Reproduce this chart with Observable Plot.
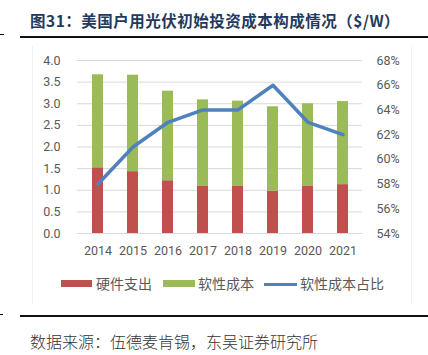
<!DOCTYPE html>
<html><head><meta charset="utf-8">
<script src="https://cdn.jsdelivr.net/npm/d3@7"></script>
<script src="https://cdn.jsdelivr.net/npm/@observablehq/plot@0.6"></script>
<style>
html,body{margin:0;padding:0;background:#fff;}
#wrap{position:relative;width:428px;height:355px;overflow:hidden;font-family:"Noto Sans CJK SC","Noto Sans",sans-serif;}
#title{position:absolute;left:30px;top:9px;font-size:15.5px;font-weight:700;color:#233a5e;white-space:nowrap;letter-spacing:0.5px;}
.rule{position:absolute;background:#111;}
#chart{position:absolute;left:0;top:45px;}
#frame{position:absolute;left:32px;top:46px;width:378px;height:258px;border-left:1px solid #f1f1f1;border-right:1px solid #f1f1f1;}
#legend{position:absolute;top:274px;left:0;width:428px;height:20px;font-size:14px;color:#595959;}
#legend .sw{position:absolute;}
#legend .tx{position:absolute;top:0;line-height:18px;white-space:nowrap;}
#source{position:absolute;left:30px;top:331px;font-size:16px;line-height:20px;color:#333;font-weight:300;white-space:nowrap;}
</style></head><body>
<div id="wrap">
  <div id="title">图31：美国户用光伏初始投资成本构成情况（$/W）</div>
  <div class="rule" style="left:0;top:34px;width:4px;height:1px;"></div>
  <div class="rule" style="left:20px;top:36px;width:408px;height:1.5px;"></div>
  <div id="frame"></div>
  <div id="chart"></div>
  <div id="legend"></div>
  <div class="rule" style="left:0;top:314px;width:3px;height:1px;"></div>
  <div class="rule" style="left:20px;top:314.5px;width:408px;height:2px;"></div>
  <div id="source">数据来源：伍德麦肯锡，东吴证券研究所</div>
</div>
<script>
const years = ["2014","2015","2016","2017","2018","2019","2020","2021"];
const hardware = [1.52,1.43,1.22,1.10,1.10,0.98,1.10,1.13];
const software = [2.15,2.23,2.07,1.99,1.96,1.95,1.90,1.92];
const softShare = [58,61,63,64,64,66,63,62];
const leftTicks = [0,0.5,1,1.5,2,2.5,3,3.5,4];
const rightTicks = [54,56,58,60,62,64,66,68];
const seriesNames = ["硬件支出","软性成本","软性成本占比"];
const colors = ["#c0504d","#9bbb59","#4f81bd"];

const pMin = 54, pMax = 68, lMax = 4;
const toLeft = p => (p - pMin) / (pMax - pMin) * lMax;
const fromLeft = v => pMin + v / lMax * (pMax - pMin);

const rows = years.flatMap((y, i) => [
  {year: y, type: seriesNames[0], v: hardware[i]},
  {year: y, type: seriesNames[1], v: software[i]}
]);
const lineRows = years.map((y, i) => ({year: y, p: toLeft(softShare[i])}));

const chart = Plot.plot({
  width: 428, height: 220,
  marginTop: 15, marginBottom: 32, marginLeft: 77, marginRight: 66,
  style: {fontSize: "12.5px", fontFamily: "Roboto, 'Liberation Sans', sans-serif", color: "#595959", background: "transparent"},
  x: {domain: years, paddingInner: 0.69, paddingOuter: 0.345, label: null},
  y: {domain: [0, 4], label: null},
  color: {domain: seriesNames.slice(0, 2), range: colors.slice(0, 2)},
  marks: [
    Plot.gridY(leftTicks, {stroke: "#d9d9d9", strokeOpacity: 1, strokeWidth: 1}),
    Plot.barY(rows, {x: "year", y: "v", fill: "type"}),
    Plot.line(lineRows, {x: "year", y: "p", stroke: colors[2], strokeWidth: 3.5, strokeLinejoin: "round", strokeLinecap: "round"}),
    Plot.axisY(leftTicks, {anchor: "left", tickSize: 0, tickPadding: 17, label: null, tickFormat: d => d.toFixed(1)}),
    Plot.axisY(rightTicks.map(toLeft), {anchor: "right", tickSize: 0, tickPadding: 14, label: null, tickFormat: d => Math.round(fromLeft(d)) + "%"}),
    Plot.axisX(years, {tickSize: 0, tickPadding: 13, label: null})
  ]
});
document.getElementById("chart").appendChild(chart);

// legend
const legend = document.getElementById("legend");
const items = [
  {sw: {left: 61, width: 31, top: 6, height: 7}, tx: 96},
  {sw: {left: 163, width: 32, top: 6, height: 7}, tx: 198},
  {sw: {left: 264, width: 33, top: 8.5, height: 3}, tx: 300}
];
items.forEach((it, i) => {
  const s = document.createElement("div");
  s.className = "sw";
  Object.assign(s.style, {left: it.sw.left + "px", width: it.sw.width + "px", top: it.sw.top + "px", height: it.sw.height + "px", background: colors[i]});
  legend.appendChild(s);
  const t = document.createElement("div");
  t.className = "tx";
  t.style.left = it.tx + "px";
  t.textContent = seriesNames[i];
  legend.appendChild(t);
});
</script>
</body></html>
